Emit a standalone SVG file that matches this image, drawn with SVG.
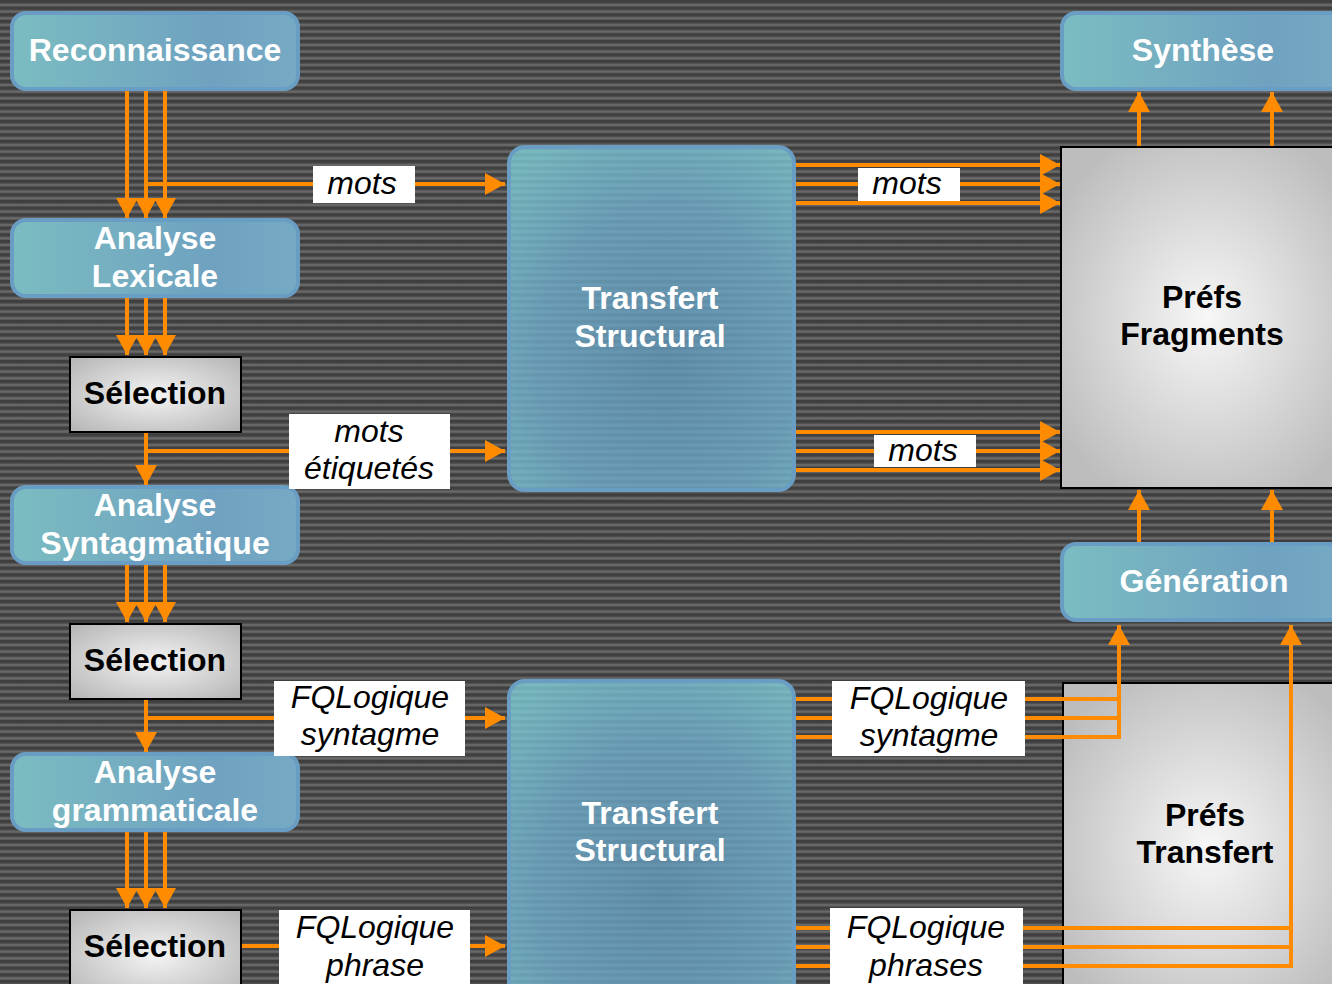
<svg xmlns="http://www.w3.org/2000/svg" width="1332" height="984" viewBox="0 0 1332 984">
  <defs>
    <!-- striped dark backdrop -->
    <linearGradient id="stripeShade" x1="0" y1="0" x2="0" y2="1">
      <stop offset="0" stop-color="#3d3d3d"/>
      <stop offset="0.45" stop-color="#424242"/>
      <stop offset="0.6" stop-color="#666666"/>
      <stop offset="0.85" stop-color="#6a6a6a"/>
      <stop offset="1" stop-color="#4a4a4a"/>
    </linearGradient>
    <pattern id="stripes" patternUnits="userSpaceOnUse" width="20" height="6.667">
      <rect width="20" height="6.667" fill="url(#stripeShade)"/>
    </pattern>
    <pattern id="fineStripes" patternUnits="userSpaceOnUse" width="20" height="6.667">
      <rect width="20" height="3.3" fill="#000000" opacity="0.06"/>
    </pattern>
    <!-- teal process boxes -->
    <linearGradient id="teal" x1="0" y1="0" x2="1" y2="0">
      <stop offset="0" stop-color="#7bbcc1"/>
      <stop offset="0.7" stop-color="#6fa2c0"/>
      <stop offset="1" stop-color="#76aac4"/>
    </linearGradient>
    <radialGradient id="tealBig" cx="0.55" cy="0.62" r="0.75">
      <stop offset="0" stop-color="#6390ac"/>
      <stop offset="0.6" stop-color="#6c9fb8"/>
      <stop offset="1" stop-color="#79b8c0"/>
    </radialGradient>
    <!-- grey boxes -->
    <radialGradient id="grey" cx="0.5" cy="0.5" r="0.7">
      <stop offset="0" stop-color="#f4f4f4"/>
      <stop offset="1" stop-color="#b4b4b4"/>
    </radialGradient>
    <radialGradient id="greyBig" cx="0.5" cy="0.5" r="0.6">
      <stop offset="0" stop-color="#f7f7f7"/>
      <stop offset="1" stop-color="#bdbdbd"/>
    </radialGradient>
    <marker id="arrow" markerUnits="userSpaceOnUse" markerWidth="22" markerHeight="22" refX="20" refY="11" orient="auto">
      <path d="M0,0 L20,11 L0,22 z" fill="#ff8c00"/>
    </marker>
    <style>
      .teal { fill: url(#teal); stroke: #6a9dc3; stroke-width: 4; }
      .tealBig { fill: url(#tealBig); stroke: #6a9dc3; stroke-width: 4; }
      .grey { fill: url(#grey); stroke: #000; stroke-width: 2; }
      .greyBig { fill: url(#greyBig); stroke: #000; stroke-width: 2; }
      .wt { font-family: "Liberation Sans", Arial, sans-serif; font-weight: bold; font-size: 32px; fill: #fff; text-anchor: middle; }
      .bt { font-family: "Liberation Sans", Arial, sans-serif; font-weight: bold; font-size: 32px; fill: #000; text-anchor: middle; }
      .lt { font-family: "Liberation Sans", Arial, sans-serif; font-style: italic; font-size: 32px; fill: #000; text-anchor: middle; }
      .box { fill: #fff; }
      .wire { fill: none; stroke: #ff8c00; stroke-width: 4; }
      .arr { marker-end: url(#arrow); }
    </style>
  </defs>

  <rect width="1332" height="984" fill="url(#stripes)"/>

  <!-- nodes -->
  <g id="reconnaissance">
    <rect class="teal" x="12" y="13" width="286" height="76" rx="14"/>
    <text class="wt" x="155" y="61">Reconnaissance</text>
  </g>
  <g id="analyse-lexicale">
    <rect class="teal" x="12" y="220" width="286" height="76" rx="14"/>
    <text class="wt" x="155" y="249">Analyse</text>
    <text class="wt" x="155" y="287">Lexicale</text>
  </g>
  <g id="selection-1">
    <rect class="grey" x="70" y="357" width="171" height="75"/>
    <text class="bt" x="155" y="404">Sélection</text>
  </g>
  <g id="analyse-syntagmatique">
    <rect class="teal" x="12" y="487" width="286" height="76" rx="14"/>
    <text class="wt" x="155" y="516">Analyse</text>
    <text class="wt" x="155" y="554">Syntagmatique</text>
  </g>
  <g id="selection-2">
    <rect class="grey" x="70" y="624" width="171" height="75"/>
    <text class="bt" x="155" y="671">Sélection</text>
  </g>
  <g id="analyse-grammaticale">
    <rect class="teal" x="12" y="754" width="286" height="76" rx="14"/>
    <text class="wt" x="155" y="783">Analyse</text>
    <text class="wt" x="155" y="821">grammaticale</text>
  </g>
  <g id="selection-3">
    <rect class="grey" x="70" y="910" width="171" height="90"/>
    <text class="bt" x="155" y="957">Sélection</text>
  </g>

  <g id="transfert-structural-1">
    <rect class="tealBig" x="509" y="147" width="285" height="343" rx="16"/>
    <rect x="511" y="149" width="281" height="339" rx="14" fill="url(#fineStripes)"/>
    <text class="wt" x="650" y="309">Transfert</text>
    <text class="wt" x="650" y="347">Structural</text>
  </g>
  <g id="transfert-structural-2">
    <rect class="tealBig" x="509" y="681" width="285" height="340" rx="16"/>
    <rect x="511" y="683" width="281" height="336" rx="14" fill="url(#fineStripes)"/>
    <text class="wt" x="650" y="824">Transfert</text>
    <text class="wt" x="650" y="861">Structural</text>
  </g>

  <g id="synthese">
    <rect class="teal" x="1062" y="13" width="290" height="76" rx="14"/>
    <text class="wt" x="1203" y="61">Synthèse</text>
  </g>
  <g id="prefs-fragments">
    <rect class="greyBig" x="1061" y="147" width="290" height="341"/>
    <text class="bt" x="1202" y="308">Préfs</text>
    <text class="bt" x="1202" y="345">Fragments</text>
  </g>
  <g id="generation">
    <rect class="teal" x="1062" y="544" width="290" height="76" rx="14"/>
    <text class="wt" x="1204" y="592">Génération</text>
  </g>
  <g id="prefs-transfert">
    <rect class="greyBig" x="1063" y="683" width="290" height="330"/>
    <text class="bt" x="1205" y="826">Préfs</text>
    <text class="bt" x="1205" y="863">Transfert</text>
  </g>

  <!-- connectors -->
  <g id="connectors">
    <!-- left column: down flows -->
    <line class="wire arr" x1="127" y1="91" x2="127" y2="218"/>
    <line class="wire arr" x1="146" y1="91" x2="146" y2="218"/>
    <line class="wire arr" x1="165" y1="91" x2="165" y2="218"/>
    <line class="wire arr" x1="127" y1="298" x2="127" y2="355"/>
    <line class="wire arr" x1="146" y1="298" x2="146" y2="355"/>
    <line class="wire arr" x1="165" y1="298" x2="165" y2="355"/>
    <line class="wire arr" x1="146" y1="433" x2="146" y2="485"/>
    <line class="wire arr" x1="127" y1="565" x2="127" y2="622"/>
    <line class="wire arr" x1="146" y1="565" x2="146" y2="622"/>
    <line class="wire arr" x1="165" y1="565" x2="165" y2="622"/>
    <line class="wire arr" x1="146" y1="700" x2="146" y2="752"/>
    <line class="wire arr" x1="127" y1="832" x2="127" y2="908"/>
    <line class="wire arr" x1="146" y1="832" x2="146" y2="908"/>
    <line class="wire arr" x1="165" y1="832" x2="165" y2="908"/>

    <!-- branches into the transfer boxes -->
    <line class="wire arr" x1="146" y1="184" x2="505" y2="184"/>
    <line class="wire arr" x1="146" y1="451" x2="505" y2="451"/>
    <line class="wire arr" x1="146" y1="718" x2="505" y2="718"/>
    <line class="wire arr" x1="242" y1="946" x2="505" y2="946"/>

    <!-- transfer 1 to Préfs Fragments -->
    <line class="wire arr" x1="796" y1="165" x2="1060" y2="165"/>
    <line class="wire arr" x1="796" y1="184" x2="1060" y2="184"/>
    <line class="wire arr" x1="796" y1="203" x2="1060" y2="203"/>
    <line class="wire arr" x1="796" y1="432" x2="1060" y2="432"/>
    <line class="wire arr" x1="796" y1="451" x2="1060" y2="451"/>
    <line class="wire arr" x1="796" y1="470" x2="1060" y2="470"/>

    <!-- transfer 2 to Génération -->
    <line class="wire" x1="796" y1="699" x2="1121" y2="699"/>
    <line class="wire" x1="796" y1="718" x2="1121" y2="718"/>
    <line class="wire" x1="796" y1="737" x2="1121" y2="737"/>
    <line class="wire arr" x1="1119" y1="739" x2="1119" y2="625"/>
    <line class="wire" x1="796" y1="928" x2="1293" y2="928"/>
    <line class="wire" x1="796" y1="947" x2="1293" y2="947"/>
    <line class="wire" x1="796" y1="966" x2="1293" y2="966"/>
    <line class="wire arr" x1="1291" y1="968" x2="1291" y2="625"/>

    <!-- upward flows on the right -->
    <line class="wire arr" x1="1139" y1="542" x2="1139" y2="490"/>
    <line class="wire arr" x1="1272" y1="542" x2="1272" y2="490"/>
    <line class="wire arr" x1="1139" y1="146" x2="1139" y2="92"/>
    <line class="wire arr" x1="1272" y1="146" x2="1272" y2="92"/>
  </g>

  <!-- connector labels -->
  <g id="labels">
    <rect class="box" x="313" y="166" width="102" height="37"/>
    <text class="lt" x="362" y="194">mots</text>
    <rect class="box" x="289" y="414" width="161" height="75"/>
    <text class="lt" x="369" y="442">mots</text>
    <text class="lt" x="369" y="479">étiquetés</text>
    <rect class="box" x="274" y="681" width="191" height="75"/>
    <text class="lt" x="370" y="708">FQLogique</text>
    <text class="lt" x="370" y="745">syntagme</text>
    <rect class="box" x="279" y="910" width="191" height="80"/>
    <text class="lt" x="375" y="938">FQLogique</text>
    <text class="lt" x="375" y="976">phrase</text>
    <rect class="box" x="858" y="168" width="102" height="33"/>
    <text class="lt" x="907" y="194">mots</text>
    <rect class="box" x="874" y="435" width="102" height="32"/>
    <text class="lt" x="923" y="461">mots</text>
    <rect class="box" x="832" y="681" width="193" height="75"/>
    <text class="lt" x="929" y="709">FQLogique</text>
    <text class="lt" x="929" y="746">syntagme</text>
    <rect class="box" x="830" y="908" width="193" height="80"/>
    <text class="lt" x="926" y="938">FQLogique</text>
    <text class="lt" x="926" y="976">phrases</text>
  </g>
</svg>
